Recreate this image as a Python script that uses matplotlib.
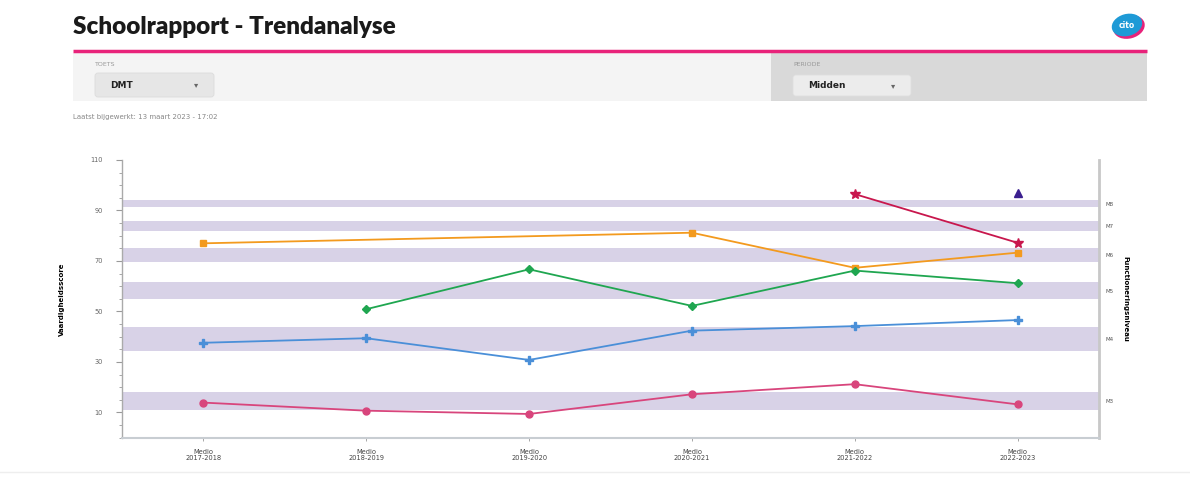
import matplotlib.pyplot as plt
from matplotlib.patches import Rectangle, FancyBboxPatch, Ellipse

# data
periods = ["Medio\n2017-2018", "Medio\n2018-2019", "Medio\n2019-2020",
           "Medio\n2020-2021", "Medio\n2021-2022", "Medio\n2022-2023"]
orange_vals = [77.0, None, None, 81.2, 67.3, 73.3]
green_vals = [None, 50.9, 66.7, 52.2, 66.2, 61.2]
blue_vals = [37.6, 39.4, 30.8, 42.4, 44.2, 46.6]
pink_vals = [13.9, 10.7, 9.4, 17.2, 21.2, 13.2]
star_vals = [None, None, None, None, 96.5, 77.2]
triangle_vals = [None, None, None, None, None, 97.1]

band_lo = [91.4, 81.9, 69.6, 54.9, 34.3, 11.0]
band_hi = [94.1, 85.8, 75.1, 61.7, 43.9, 18.1]
band_labels = ["M8", "M7", "M6", "M5", "M4", "M3"]
y_ticks = [10, 30, 50, 70, 90, 110]

W, H = 1190, 482
fig = plt.figure(figsize=(W / 100, H / 100), dpi=100)

# page header drawn in pixel coordinates
bg = fig.add_axes([0, 0, 1, 1])
bg.set_xlim(0, W)
bg.set_ylim(H, 0)
bg.axis("off")
bg.text(73, 27, "Schoolrapport - Trendanalyse", fontsize=17.5, fontweight="heavy",
        family=["Lato", "DejaVu Sans"], color="#1a1a1a", va="center", ha="left")
bg.plot([73, 1147], [50.5, 50.5], color="#e8227a", lw=2.5, solid_capstyle="butt")
bg.add_patch(Rectangle((73, 52.5), 698, 48.5, color="#f4f4f4", lw=0))
bg.add_patch(Rectangle((771, 52.5), 376, 48.5, color="#d9d9d9", lw=0))
bg.add_patch(FancyBboxPatch((95, 73), 119, 24, boxstyle="round,pad=0,rounding_size=3",
                            fc="#e6e6e6", ec="#dcdcdc", lw=0.6))
bg.add_patch(FancyBboxPatch((793, 75), 118, 21, boxstyle="round,pad=0,rounding_size=3",
                            fc="#ececec", ec="#e0e0e0", lw=0.6))
bg.text(95, 65, "TOETS", fontsize=4.5, color="#999999", va="center")
bg.text(110, 85, "DMT", fontsize=6.5, fontweight="bold", color="#222222", va="center")
bg.text(196, 85, "▾", fontsize=6, color="#666666", va="center", ha="center")
bg.text(793, 65, "PERIODE", fontsize=4.5, color="#999999", va="center")
bg.text(808, 86, "Midden", fontsize=6.5, fontweight="bold", color="#222222", va="center")
bg.text(893, 86, "▾", fontsize=6, color="#666666", va="center", ha="center")
bg.text(73, 117, "Laatst bijgewerkt: 13 maart 2023 - 17:02", fontsize=5, color="#888888",
        va="center")
bg.add_patch(Ellipse((1129, 27), 32, 23, angle=-15, color="#e8227a", lw=0))
bg.add_patch(Ellipse((1127, 25), 31, 22, angle=-15, color="#1e9ad6", lw=0))
bg.text(1127, 25, "cito", fontsize=5.5, fontweight="bold", color="white",
        ha="center", va="center")
bg.plot([0, W], [472, 472], color="#eeeeee", lw=1)

# chart
ax = fig.add_axes([122 / W, 1 - 437.7 / H, (1099 - 122) / W, (437.7 - 160) / H])
x = list(range(len(periods)))

for lo, hi in zip(band_lo, band_hi):
    ax.axhspan(lo, hi, color="#d8d2e7", lw=0, zorder=0)


def series(vals, color, marker, ms):
    xs = [i for i, v in zip(x, vals) if v is not None]
    ys = [v for v in vals if v is not None]
    ax.plot(xs, ys, color=color, marker=marker, ms=ms, lw=1.3, zorder=3)


series(orange_vals, "#f39a1e", "s", 4.5)
series(green_vals, "#1fa650", "D", 4)
series(blue_vals, "#4a8fd8", "P", 5.5)
series(pink_vals, "#d8457c", "o", 5)
series(star_vals, "#c8174d", "*", 7.5)
series(triangle_vals, "#3b1f8f", "^", 5.5)

ax.set_xlim(-0.5, 5.5)
ax.set_ylim(0, 110)
ax.set_xticks(x)
ax.set_xticklabels(periods, fontsize=4.8, color="#444444", linespacing=1.1)
ax.set_yticks(y_ticks)
ax.set_yticklabels([str(v) for v in y_ticks], fontsize=4.8, color="#666666")
ax.set_yticks(range(0, 111, 5), minor=True)
ax.tick_params(axis="y", which="major", length=4, width=0.8, color="#999999", pad=10)
ax.tick_params(axis="y", which="minor", length=2, width=0.6, color="#999999")
ax.tick_params(axis="x", length=2, width=0.6, color="#999999", pad=6)
ax.set_ylabel("Vaardigheidsscore", fontsize=5, fontweight="bold", labelpad=18)

ax.spines["top"].set_visible(False)
ax.spines["left"].set_color("#aaaaaa")
ax.spines["left"].set_linewidth(1)
ax.spines["bottom"].set_color("#c8cdd2")
ax.spines["bottom"].set_linewidth(1.5)
ax.spines["right"].set_color("#c8c8c8")
ax.spines["right"].set_linewidth(2)

ax2 = ax.twinx()
ax2.set_ylim(ax.get_ylim())
ax2.set_yticks([(lo + hi) / 2 for lo, hi in zip(band_lo, band_hi)])
ax2.set_yticklabels(band_labels, fontsize=4, color="#555555")
ax2.tick_params(axis="y", length=0, pad=5)
ax2.set_ylabel("Functioneringsniveau", fontsize=5, fontweight="bold", rotation=270,
               labelpad=10)
for side in ["top", "left", "bottom", "right"]:
    ax2.spines[side].set_visible(False)

fig.savefig("out.png", dpi=100)
